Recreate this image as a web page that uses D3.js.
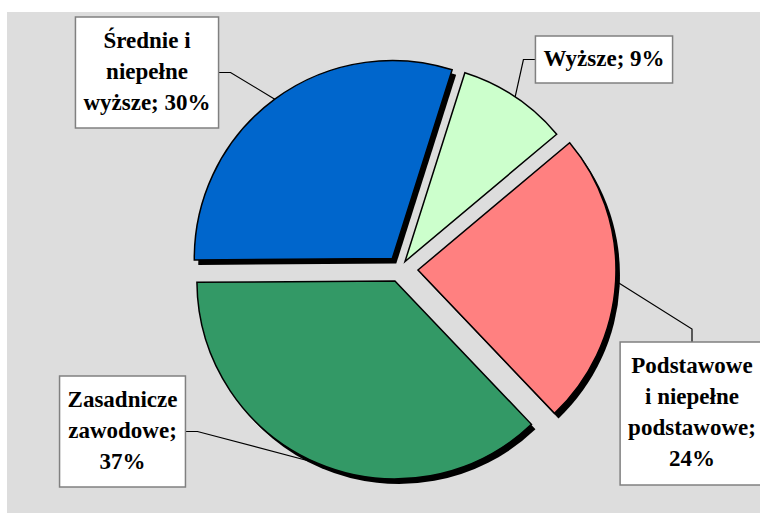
<!DOCTYPE html>
<html>
<head>
<meta charset="utf-8">
<script src="https://cdn.jsdelivr.net/npm/d3@7"></script>
<style>
    body { margin: 0; background: #ffffff; }
</style>
</head>
<body>
<div id="chart"></div>
<script>
// Data: education level shares (%)
const categories = ["Podstawowe i niepełne podstawowe", "Zasadnicze zawodowe", "Średnie i niepełne wyższe", "Wyższe"];
const values = [24, 37, 30, 9];
// label text, "{p}" is replaced by the value
const labelLines = [
    ["Podstawowe", "i niepełne", "podstawowe;", "{p}%"],
    ["Zasadnicze", "zawodowe;", "{p}%"],
    ["Średnie i", "niepełne", "wyższe; {p}%"],
    ["Wyższe; {p}%"]
];

const colors = ["#ff8080", "#339966", "#0066cc", "#ccffcc"];
const explode = [18, 13, 13, 9];
const hasShadow = [true, true, true, false];

// label boxes: centre x, top y, side the leader line comes in from
const labelBoxes = [
    { cx: 692, top: 342, side: "top" },
    { cx: 122.5, top: 376, side: "right" },
    { cx: 147, top: 17, side: "right" },
    { cx: 604, top: 36, side: "left" }
];

const width = 760, height = 513;
const center = { x: 400, y: 269 };
const radius = 198;
const fontSize = 23, lineH = 31;
const fontFamily = "'Liberation Serif', Tinos, 'Times New Roman', 'DejaVu Serif', serif";

const svg = d3.select("#chart")
    .append("svg")
    .attr("width", width)
    .attr("height", height);

// plot area
svg.append("rect")
    .attr("x", 7).attr("y", 12)
    .attr("width", width - 7).attr("height", height - 12)
    .attr("fill", "#dddddd");

const pie = d3.pie()
    .sort(null)
    .startAngle(50 * Math.PI / 180)
    .endAngle(50 * Math.PI / 180 + 2 * Math.PI);

const arcs = pie(values);
const arc = d3.arc().innerRadius(0).outerRadius(radius);

// offset of each exploded slice along its bisector
function offset(d, i) {
    const a = (d.startAngle + d.endAngle) / 2;
    return [Math.sin(a) * explode[i], -Math.cos(a) * explode[i]];
}

const g = svg.append("g")
    .attr("transform", `translate(${center.x},${center.y})`);

// shadows
g.selectAll("path.shadow")
    .data(arcs.filter((d, i) => hasShadow[i]))
    .enter()
    .append("path")
    .attr("class", "shadow")
    .attr("d", arc)
    .attr("fill", "#000")
    .attr("transform", d => {
        const o = offset(d, d.index);
        return `translate(${o[0] + 4},${o[1] + 5})`;
    });

// slices
g.selectAll("path.slice")
    .data(arcs)
    .enter()
    .append("path")
    .attr("class", "slice")
    .attr("d", arc)
    .attr("fill", (d, i) => colors[i])
    .attr("stroke", "#000")
    .attr("stroke-width", 1.5)
    .attr("stroke-linejoin", "miter")
    .attr("transform", (d, i) => {
        const o = offset(d, i);
        return `translate(${o[0]},${o[1]})`;
    });

// labels
arcs.forEach((d, i) => {
    const lines = labelLines[i].map(s => s.replace("{p}", values[i]));
    const box = labelBoxes[i];
    const lg = svg.append("g");

    const rect = lg.append("rect")
        .attr("fill", "#ffffff")
        .attr("stroke", "#808080")
        .attr("stroke-width", 1.5);

    const h = 15 + lines.length * 32;
    const cy = box.top + h / 2;
    let maxW = 0;
    lines.forEach((s, k) => {
        const t = lg.append("text")
            .attr("x", box.cx)
            .attr("y", cy + (k - (lines.length - 1) / 2) * lineH + 6)
            .attr("text-anchor", "middle")
            .style("font-family", fontFamily)
            .style("font-weight", "bold")
            .style("font-size", fontSize + "px")
            .attr("fill", "#000")
            .text(s);
        maxW = Math.max(maxW, t.node().getComputedTextLength());
    });
    const w = maxW + 16;
    rect.attr("x", box.cx - w / 2).attr("y", box.top)
        .attr("width", w).attr("height", h);

    // leader line: arc midpoint -> elbow -> box
    const a = (d.startAngle + d.endAngle) / 2;
    const o = offset(d, i);
    const p0 = [center.x + o[0] + Math.sin(a) * radius, center.y + o[1] - Math.cos(a) * radius];
    let p1, p2;
    if (box.side === "top") {
        p2 = [box.cx, box.top];
        p1 = [box.cx, box.top - 13];
    } else if (box.side === "right") {
        p2 = [box.cx + w / 2, cy];
        p1 = [box.cx + w / 2 + 12, cy];
    } else {
        p2 = [box.cx - w / 2, cy];
        p1 = [box.cx - w / 2 - 12, cy];
    }
    svg.insert("path", "g")
        .attr("d", d3.line()([p0, p1, p2]))
        .attr("fill", "none")
        .attr("stroke", "#000")
        .attr("stroke-width", 1.2);
});
</script>
</body>
</html>
